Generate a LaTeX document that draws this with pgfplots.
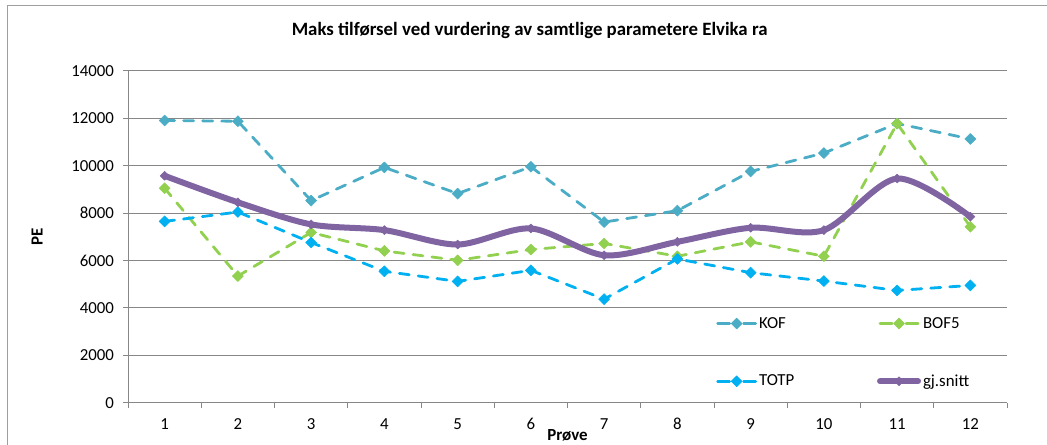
\documentclass[border=0pt]{standalone}
\usepackage{fontspec}
\setmainfont{Carlito}
\usepackage{pgfplots}
\pgfplotsset{compat=1.18}

\definecolor{kof}{HTML}{4BACC6}
\definecolor{bof}{HTML}{92D050}
\definecolor{totp}{HTML}{00B0F0}
\definecolor{snitt}{HTML}{8064A2}
\definecolor{gridgray}{HTML}{878787}

\begin{document}
\begin{tikzpicture}
\useasboundingbox (0,0) rectangle (1047bp,445bp);
% chart area frame (runs off the right and bottom edge)
\draw[gridgray!80, line width=1bp] (7bp,-10bp) rectangle (1060bp,439bp);
\begin{axis}[
 at={(128bp,42.3bp)}, anchor=south west,
 scale only axis, width=879bp, height=331.7bp,
 xmin=0.5, xmax=12.5, ymin=0, ymax=14000,
 axis x line*=bottom, axis y line*=left,
 axis line style={gridgray, line width=1bp},
 xtick={1,...,12},
 minor xtick={0.5,1.5,...,12.5},
 major x tick style={draw=none},
 minor x tick style={gridgray, line width=1bp},
 ytick={0,2000,...,14000},
 y tick style={gridgray, line width=1bp},
 tick align=outside,
 major tick length=5bp, minor tick length=5bp,
 ymajorgrids,
 grid style={gridgray, line width=1bp},
 scaled y ticks=false,
 /pgf/number format/assume math mode=true,
 /pgf/number format/1000 sep={},
 tick label style={font=\fontsize{16.9}{18}\selectfont},
 yticklabel style={xshift=-5.5bp},
 xticklabel style={yshift=-7bp},
 title={Maks tilførsel ved vurdering av samtlige parametere Elvika ra},
 title style={at={(0.457,1.105)}, anchor=center, font=\bfseries\fontsize{18.9}{20}\selectfont},
 xlabel={Prøve},
 xlabel style={at={(axis description cs:0.5,-0.097)}, anchor=center, font=\bfseries\fontsize{17}{19}\selectfont},
 ylabel={PE},
 ylabel style={at={(axis description cs:-0.1035,0.5)}, anchor=center, font=\bfseries\fontsize{17}{19}\selectfont},
 legend columns=2,
 legend style={at={(0.669,0.264)}, anchor=north west, draw=none, fill=none,
   inner sep=0pt, row sep=41bp, font=\fontsize{16.9}{18}\selectfont},
 legend cell align=left,
 legend image code/.code={\draw[mark repeat=2,mark phase=2, dash pattern=on 12bp off 14bp] plot coordinates {(0bp,0bp) (19bp,0bp) (38bp,0bp)};},
 every axis plot/.append style={line cap=round, line join=round},
]

% KOF
\addplot[kof, line width=2.8bp, dash pattern=on 10bp off 9bp,
  mark=diamond*, mark size=5.5bp, mark options={solid, xscale=1.33, line width=0.5bp}]
 coordinates {(1,11910) (2,11880) (3,8530) (4,9930) (5,8826) (6,9958)
  (7,7624) (8,8105) (9,9760) (10,10537) (11,11782) (12,11132)};
\addlegendentry{\makebox[116bp][l]{KOF}}

% BOF5
\addplot[bof, line width=2.8bp, dash pattern=on 10bp off 9bp,
  mark=diamond*, mark size=5.5bp, mark options={solid, xscale=1.33, line width=0.5bp}]
 coordinates {(1,9052) (2,5346) (3,7185) (4,6407) (5,6011) (6,6464)
  (7,6719) (8,6181) (9,6789) (10,6181) (11,11782) (12,7426)};
\addlegendentry{BOF5}

% TOTP
\addplot[totp, line width=2.8bp, dash pattern=on 10bp off 9bp,
  mark=diamond*, mark size=5.5bp, mark options={solid, xscale=1.33, line width=0.5bp}]
 coordinates {(1,7652) (2,8048) (3,6761) (4,5545) (5,5120) (6,5587)
  (7,4371) (8,6068) (9,5488) (10,5134) (11,4738) (12,4950)};
\addlegendentry{\makebox[116bp][l]{TOTP}}

% gj.snitt
\addplot[snitt, line width=6bp, smooth,
  mark=diamond*, mark size=4.5bp, mark options={solid, xscale=1.33, line width=0.5bp},
  legend image code/.code={\draw[mark repeat=2,mark phase=2] plot coordinates {(0bp,0bp) (19bp,0bp) (38bp,0bp)};}]
 coordinates {(1,9576) (2,8458) (3,7525) (4,7284) (5,6676) (6,7355)
  (7,6223) (8,6789) (9,7383) (10,7284) (11,9462) (12,7850)};
\addlegendentry{gj.snitt}

\end{axis}
\end{tikzpicture}
\end{document}
